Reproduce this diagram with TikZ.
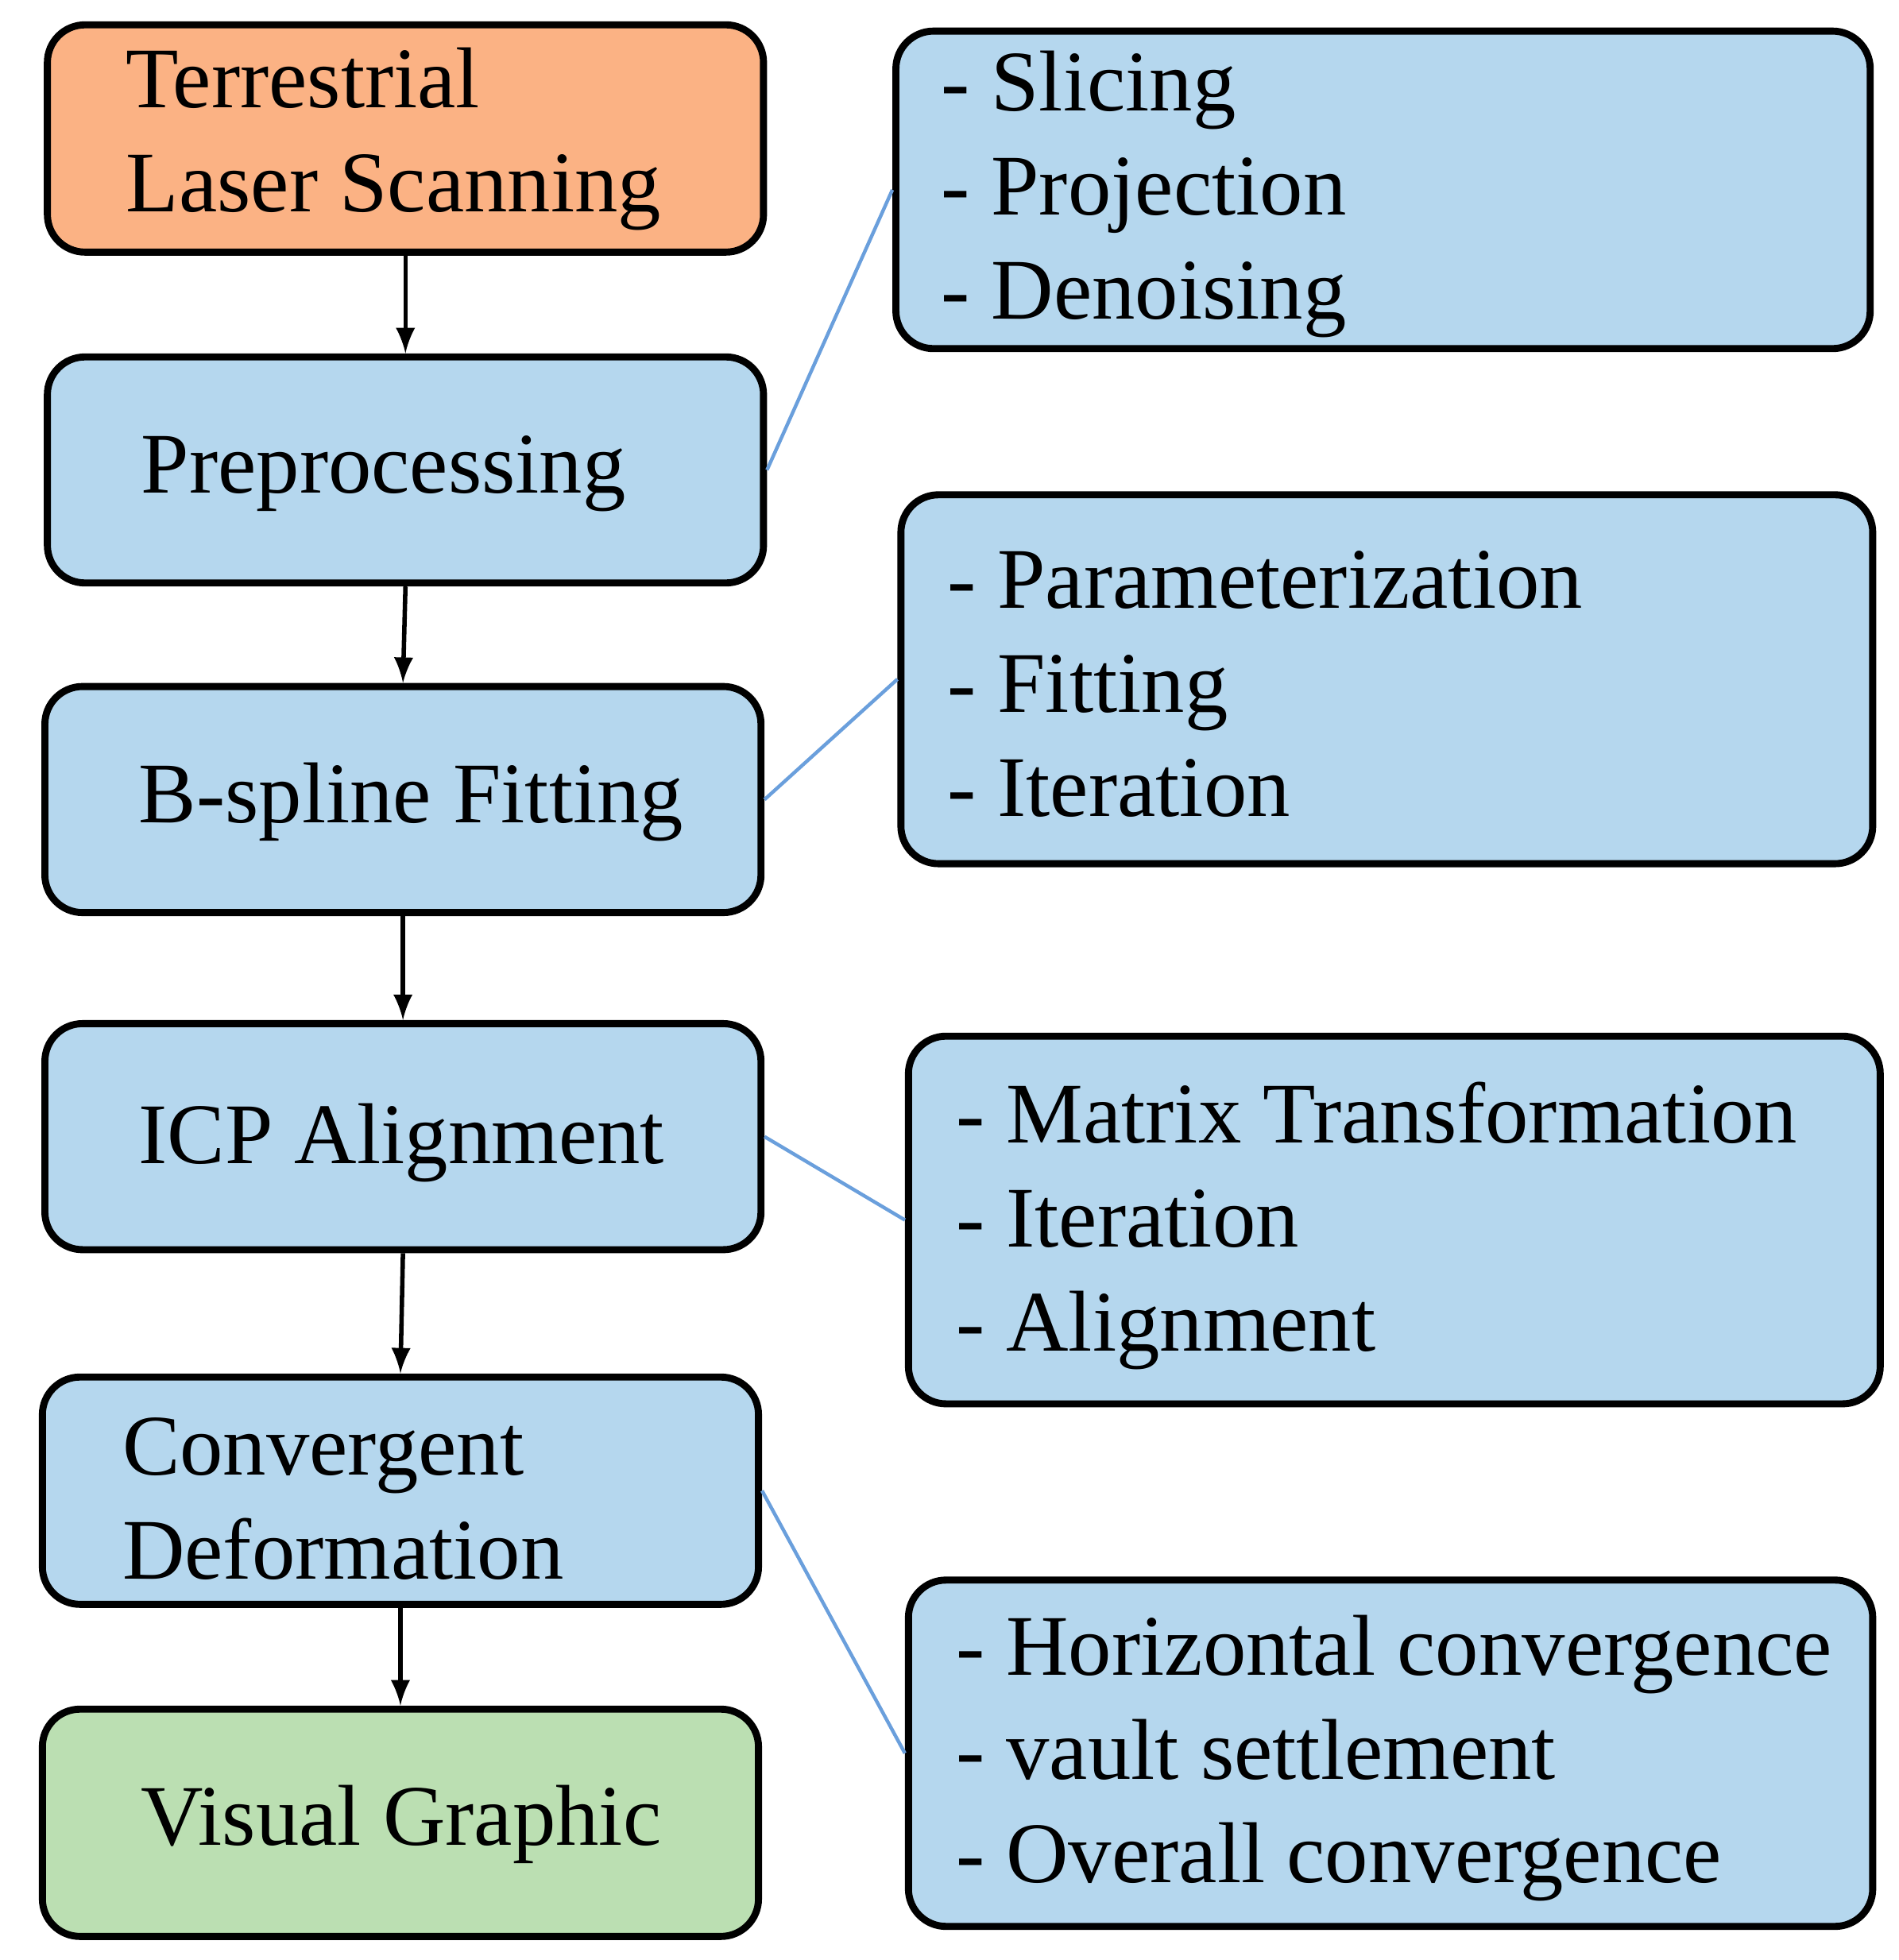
\documentclass[tikz,border=0pt]{standalone}
\usepackage{fontspec}
\setmainfont{Liberation Serif}
\definecolor{orangef}{HTML}{FBB284}
\definecolor{bluef}{HTML}{B5D7EE}
\definecolor{greenf}{HTML}{BBDFB2}
\definecolor{linkc}{HTML}{6A9FDC}
\begin{document}
\begin{tikzpicture}[x=0.01cm,y=-0.01cm,
  box/.style={draw=black,line width=1.6pt,rounded corners=0.3cm,inner sep=0,anchor=north west},
  txt/.style={anchor=west,align=left,inner sep=0,font=\fontsize{19.6}{23.6}\selectfont},
  arr/.style={-latex,line width=1pt},
  link/.style={draw=linkc,line width=0.8pt}]
\useasboundingbox (0,0) rectangle (1515,1564);
\newcommand{\bx}[6]{\node[box,fill=#6,minimum width=#4*0.01cm-1.6pt,minimum height=#5*0.01cm-1.6pt] (#1) at (#2,#3) {};}
\bx{tls}{35}{17}{577}{187}{orangef}
\bx{pre}{35}{282}{577}{186}{bluef}
\bx{bsp}{33}{545}{577}{186}{bluef}
\bx{icp}{33}{814}{577}{186}{bluef}
\bx{con}{31}{1096}{577}{187}{bluef}
\bx{vis}{31}{1361}{577}{187}{greenf}
\bx{r1}{712}{22}{783}{259}{bluef}
\bx{r2}{716}{392}{781}{300}{bluef}
\bx{r3}{722}{824}{781}{299}{bluef}
\bx{r4}{722}{1258}{775}{282}{bluef}
\node[txt] (t1) at (100,111) {Terrestrial\\Laser Scanning};
\node[txt] (t2) at (112,378) {Preprocessing};
\node[txt] (t3) at (110,640) {B-spline Fitting};
\node[txt] (t4) at (110,912) {ICP Alignment};
\node[txt] (t5) at (97,1196) {Convergent\\Deformation};
\node[txt] (t6) at (112,1456) {Visual Graphic};
\node[txt] (s1) at (750,155) {- Slicing\\- Projection\\- Denoising};
\node[txt] (s2) at (755,546) {- Parameterization\\- Fitting\\- Iteration};
\node[txt] (s3) at (762,978) {- Matrix Transformation\\- Iteration\\- Alignment};
\node[txt] (s4) at (762,1403) {- Horizontal convergence\\- vault settlement\\- Overall convergence};
\draw[arr] (tls.south) -- (pre.north);
\draw[arr] (pre.south) -- (bsp.north);
\draw[arr] (bsp.south) -- (icp.north);
\draw[arr] (icp.south) -- (con.north);
\draw[arr] (con.south) -- (vis.north);
\draw[link] (pre.east) -- (r1.west);
\draw[link] (bsp.east) -- (r2.west);
\draw[link] (icp.east) -- (r3.west);
\draw[link] (con.east) -- (r4.west);
\end{tikzpicture}
\end{document}
